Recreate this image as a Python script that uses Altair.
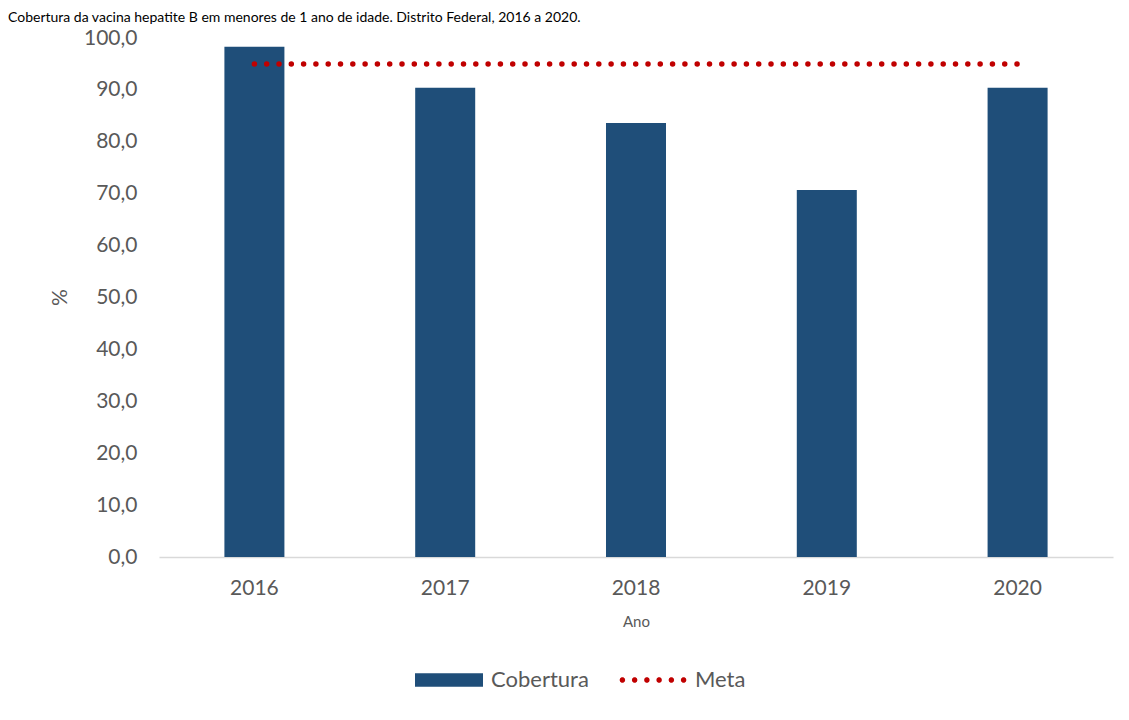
import math
import altair as alt
import pandas as pd

anos = ["2016", "2017", "2018", "2019", "2020"]
cobertura = [98.3, 90.4, 83.6, 70.7, 90.4]
meta = [95.0, 95.0, 95.0, 95.0, 95.0]
series = ["Cobertura", "Meta"]
cores = ["#1F4E79", "#C00000"]
y_ticks = [0, 10, 20, 30, 40, 50, 60, 70, 80, 90, 100]
titulo = "Cobertura da vacina hepatite B em menores de 1 ano de idade. Distrito Federal, 2016 a 2020."

df_bar = pd.DataFrame({"Ano": anos, "valor": cobertura, "serie": series[0]})
df_meta = pd.DataFrame({"Ano": anos, "valor": meta, "serie": series[1]})
df_leg = pd.DataFrame({"serie": series})

FONT = "Lato"
GREY = "#595959"

# legend symbol shapes (unit square, scaled by the legend symbol size)
rect_path = "M-1,-0.2L1,-0.2L1,0.2L-1,0.2Z"


def dot(cx, rad=0.082, n=10):
    pts = [(cx + rad * math.cos(2 * math.pi * k / n), rad * math.sin(2 * math.pi * k / n)) for k in range(n)]
    return "M" + "L".join(f"{px:.3f},{py:.3f}" for px, py in pts) + "Z"


dot_path = "".join(dot(c) for c in [-0.9, -0.54, -0.18, 0.18, 0.54, 0.9])

legend = alt.Legend(
    orient="none", legendX=256, legendY=608, direction="horizontal", title=None,
    labelFont=FONT, labelFontSize=22, labelColor=GREY,
    symbolSize=4624, labelOffset=8, columnPadding=30, padding=0,
    symbolStrokeWidth=0, symbolOpacity=1,
)

x = alt.X(
    "Ano:N",
    scale=alt.Scale(paddingInner=0.6855, paddingOuter=0.3428),
    axis=alt.Axis(
        title="Ano", labelAngle=0, ticks=False, tickSize=0, labelPadding=20,
        labelFont=FONT, labelFontSize=21, labelColor=GREY,
        domainColor="#D9D9D9", domainWidth=1.5,
        titleFont=FONT, titleFontSize=15, titleFontWeight="normal", titleColor=GREY,
        titleY=64, titleBaseline="middle",
    ),
)
y = alt.Y(
    "valor:Q",
    scale=alt.Scale(domain=[0, 100], nice=False),
    axis=alt.Axis(
        title="%", values=y_ticks, grid=False, domain=False, ticks=False,
        labelExpr="replace(format(datum.value, '.1f'), '.', ',')",
        labelPadding=22, labelFont=FONT, labelFontSize=21, labelColor=GREY,
        titleFont=FONT, titleFontSize=21, titleFontWeight="normal", titleColor=GREY,
        titleX=-99, titleY=259, titleAngle=-90, titleAlign="center", titleBaseline="middle",
    ),
)
color = alt.Color("serie:N", scale=alt.Scale(domain=series, range=cores), legend=legend)

bars = alt.Chart(df_bar).mark_bar().encode(x=x, y=y, color=color)
line = alt.Chart(df_meta).mark_line(strokeDash=[0, 12.3], strokeCap="round", strokeWidth=5.5).encode(
    x=x, y=y, color=color
)
# invisible points (clipped away) whose fill/shape give the merged legend its symbols
leg = alt.Chart(df_leg).mark_point(filled=True, clip=True).encode(
    x=alt.value(-500), y=alt.value(-500),
    fill=alt.Fill("serie:N", scale=alt.Scale(domain=series, range=cores), legend=legend),
    shape=alt.Shape("serie:N", scale=alt.Scale(domain=series, range=[rect_path, dot_path]), legend=legend),
)

chart = alt.layer(bars, line, leg).properties(
    width=954, height=519,
    autosize=alt.AutoSizeParams(type="none"),
    padding={"left": 151, "top": 30, "right": 8, "bottom": 150},
    title=alt.TitleParams(
        titulo, anchor="start", frame="group", dx=-151, offset=2,
        font=FONT, fontSize=14, fontWeight="normal", color="#000000",
    ),
).configure_view(stroke=None)

chart.save("out.html", embed_options={"renderer": "svg", "actions": False})
